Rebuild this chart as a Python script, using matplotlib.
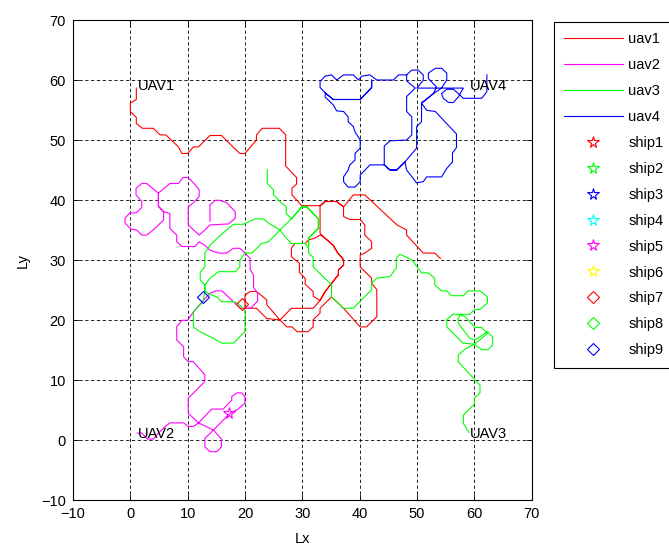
import matplotlib
matplotlib.use("Agg")
import matplotlib.pyplot as plt

plt.rcParams['font.family'] = ['Liberation Sans', 'DejaVu Sans']

# ---------------- data ----------------
uav1 = [(1.05,58.7),(1.05,56.8),(0,56.2),(0,54.8),(1.05,53.8),(1.05,52.8),(2.1,52.0),(4.0,52.0),(5.2,50.9),(6.2,50.9),
        (8.4,48.9),(9.0,47.8),(10,47.8),(11,48.9),(11.9,48.9),(13.9,50.8),(15.9,50.8),(17.9,48.9),(19.1,47.8),(20,47.8),
        (22,50.05),(22,50.9),(23,52),(26,52),(27.1,50.9),(27.1,45.7),(29,43.8),(29,42.7),(28.2,42.0),(28.2,40.9),(29.9,39.1),
        (33.1,39.1),(34.0,39.8),(36.0,39.8),(37.2,38.9),(36.0,39.8),(34.0,39.8),(33.1,39.1),(33.1,34.5),(33.7,33.9),
        (35.4,32.5),(36.2,31.2),(37.2,30.1),(37.2,29.2),(36.3,28.4),(36.3,27.6),(34.0,24.8),(33.1,23.3),
        (31.9,24.0),(31.9,24.8),(30.5,26.0),(30.5,27.0),(29.5,28.0),(29.5,29.5),(28.1,30.6),(28.1,32.0),(28.7,32.8),
        (30.5,32.8),(31.1,33.4),(32.2,33.7),(33.1,34.2),(33.7,33.9),(35.4,32.5),(36.2,31.2),(37.2,30.1),(37.2,29.2),
        (36.3,28.4),(36.3,27.6),(34.0,24.8),(33.1,23.3),(31.9,22.0),(28.1,22.0),(26.1,20.05),(23.8,22.6),(23.8,23.4),
        (22.0,24.8),(20.9,24.8),(20.0,24.2),(20.0,22.0),(22.0,22.0),(23.8,20.3),(26.1,20.05),(27.3,18.9),(28.2,18.9),
        (29.1,18.1),(31.0,18.1),(31.9,18.9),(31.9,20.1),(33.1,21.2),(33.1,22.0),(35.1,23.9),(37.2,22.0),(40.1,18.9),
        (41.2,18.9),(43.0,20.6),(43.0,25.1),(42.1,26.2),(42.1,27.0),(40.1,28.9),(40.1,30.9),(40.9,31.2),(42.1,32.0),
        (42.1,33.1),(40.9,34.2),(40.9,35.9),(40.1,36.8),(38.3,36.8),(37.2,37.3),(37.2,38.9),(38.9,40.9),(40.9,40.9),
        (46.5,35.9),(48.2,35.05),(48.2,34.2),(51.1,31.2),(53.1,31.2),(54.1,30.3)]

uav2 = [(1.2,1.2),(2.0,1.2),(3.0,0.2),(4.0,0.2),(5.0,1.3),(6.1,2.3),(6.9,2.9),(8.4,2.9),(9.3,2.9),(10.1,2.3),(11.0,2.3),
        (11.9,2.9),(14.2,5.2),(16.2,5.2),(17.7,6.7),(17.7,7.3),(18.6,7.9),(19.4,7.9),(20.0,7.3),(20.0,6.2),(18.8,5.2),
        (17.4,4.5),(14.5,1.7),(13.0,0.3),(13.0,-1.1),(13.9,-1.9),(15.1,-1.9),(15.9,-1.1),(15.9,0.2),(14.5,1.7),(11.9,2.9),
        (10.1,4.5),(10.1,7.0),(13.0,9.8),(13.0,10.9),(11.0,13.1),(10.1,13.1),(9.3,13.9),(9.3,15.6),(8.1,16.7),(8.1,18.9),
        (9.0,20.0),(10.0,20.0),(11.0,21.4),(12.9,23.5),(13.9,24.5),(14.9,24.9),(16.0,24.9),(18.3,22.8),(19.2,22.0),
        (21.0,22.0),(22.2,23.2),(22.2,24.5),(21.5,25.5),(21.5,27.5),(20.9,28.5),(20.9,30.3),(20.0,31.2),(19.1,32.0),
        (18.0,32.0),(16.8,31.2),(15.4,31.2),(13.9,31.7),(13.0,32.5),(12.0,33.1),(11.3,32.3),(9.0,32.3),(8.1,33.1),
        (8.1,34.2),(6.9,35.3),(6.9,37.8),(5.8,38.1),(5.8,36.7),(4.9,35.9),(4.0,35.05),(2.85,34.2),(2.0,34.2),(1.1,35.05),
        (0.1,35.2),(-0.93,36.2),(-0.93,37.0),(-0.06,37.9),(1.0,37.9),(2.0,38.8),(2.0,39.8),(1.0,40.9),(1.0,42.0),
        (2.0,42.8),(2.85,42.8),(4.9,41.2),(4.9,39.0),(5.8,38.1),(4.9,39.0),(4.9,41.2),(6.9,42.8),(8.4,42.8),(9.2,43.8),
        (10.1,43.8),(11.1,42.8),(12.0,41.8),(12.0,40.6),(11.0,39.6),(10.1,38.9),(10.1,35.9),(12.0,34.2),(13.0,35.05),
        (13.9,35.9),(17.1,36.05),(18.3,37.0),(18.3,38.1),(16.8,39.6),(15.6,40.0),(14.8,40.0),(13.9,39.2),(13.9,36.5)]

uav3 = [(23.9,45.1),(23.9,42.8),(25.0,41.7),(25.0,40.9),(26.1,39.8),(27.2,38.9),(27.2,37.8),(28.1,36.9),(26.1,35.05),
        (24.1,36.2),(23.2,36.9),(21.75,36.9),(19.7,36.0),(18.0,36.0),(17.1,35.3),(15.4,33.9),(13.9,32.5),(13.0,31.2),
        (13.0,28.9),(12.2,28.0),(12.2,26.7),(13.0,25.9),(13.0,24.9),(12.7,23.1),(11.0,21.4),(11.0,18.9),(12.15,18.1),
        (14.5,17.0),(15.9,16.2),(18.0,16.2),(20.0,18.1),(20.0,21.7),(18.8,22.8),(18.0,23.1),(15.9,23.1),(15.1,23.9),
        (13.9,24.3),(13.0,24.9),(13.0,25.9),(13.9,27.0),(15.4,28.1),(18.3,28.1),(19.1,28.9),(19.1,30.0),(20.0,31.2),
        (21.2,31.2),(22.9,32.8),(24.1,33.1),(24.95,33.9),(26.1,35.05),(27.0,33.9),(28.1,32.8),(30.5,32.8),(31.1,32.0),
        (31.1,33.7),(32.8,35.3),(32.8,36.9),(30.8,38.9),(29.9,38.9),(28.1,36.9),(29.9,38.9),(30.8,38.9),(32.8,36.9),
        (32.8,35.3),(31.1,33.7),(31.1,32.0),(31.1,31.2),(31.9,30.5),(31.9,28.9),(35.1,25.9),(35.1,23.9),(37.2,22.0),
        (38.9,22.0),(42.1,25.1),(42.1,26.2),(43.0,27.0),(45.3,27.3),(46.4,28.7),(46.4,30.3),(47.0,31.0),(49.1,30.1),
        (50.8,27.9),(52.0,27.9),(53.1,27.0),(53.1,25.9),(54.3,24.9),(55.2,24.9),(56.0,24.1),(58.1,24.1),(58.9,24.9),
        (61.0,24.9),(62.3,23.9),(62.3,22.9),(61.0,21.8),(60.1,21.8),(59.2,21.0),(56.3,21.0),(55.2,20.1),(55.2,18.9),
        (58.0,16.2),(60.0,16.0),(61.3,17.0),(62.3,17.8),(61.3,18.8),(60.1,18.8),(58.4,20.6),(57.5,20.9),(57.2,20.3),
        (57.2,19.5),(59.2,17.0),(60.1,16.7),(62.3,18.1),(63.2,17.2),(63.2,15.9),(62.4,15.1),(61.3,15.1),(60.0,16.0),
        (58.4,15.2),(57.2,14.2),(57.2,13.1),(60.0,10.2),(61.0,9.2),(61.0,7.9),(60.0,7.0),(60.0,6.0),(58.1,4.2),
        (58.1,2.8),(59.1,1.3)]

uav4 = [(62.2,60.9),(62.2,58.1),(61.3,57.0),(58.1,57.0),(57.2,57.8),(56.35,58.5),(55.2,58.5),(54.3,57.8),(54.6,57.0),
        (55.5,56.3),(56.35,56.3),(57.2,57.2),(58.1,58.7),(50.0,58.7),(51.1,60.0),(51.1,60.9),(50.2,61.7),(49.1,61.7),
        (48.2,60.9),(48.2,59.9),(49.7,58.7),(48.2,57.3),(48.2,54.8),(49.1,53.9),(49.1,50.9),(48.2,50.05),(45.3,49.9),
        (44.3,49.05),(44.3,45.9),(45.3,45.05),(46.5,45.05),(47.9,46.4),(49.95,48.7),(49.95,52.3),(50.8,53.1),(50.8,56.2),
        (52.9,57.8),(54.3,58.7),(55.2,60.05),(55.2,61.2),(54.3,62.0),(53.2,62.0),(52.0,61.2),(52.0,60.3),(53.4,58.9),
        (52.9,57.8),(50.8,56.2),(51.7,55.0),(53.2,54.8),(56.9,51.05),(56.9,48.8),(56.2,47.9),(56.2,46.4),(55.2,45.3),
        (54.3,43.9),(51.7,43.9),(51.1,43.1),(49.95,42.9),(48.2,45.05),(47.9,46.4),(46.5,45.05),(45.3,45.05),(44.3,45.9),
        (41.8,45.9),(40.1,44.2),(40.1,43.1),(39.2,42.2),(38.0,42.2),(37.2,43.1),(37.2,43.9),(38.0,45.05),(38.3,45.9),
        (39.2,46.7),(39.2,47.8),(40.1,48.7),(40.1,50.05),(39.2,51.4),(38.9,52.3),(38.0,53.1),(38.0,53.9),(37.2,54.8),
        (36.0,54.9),(35.4,55.9),(34.0,57.2),(34.0,57.9),(35.4,56.8),(40.1,56.8),(42.1,58.8),(42.1,60.05),(42.1,58.8),
        (40.1,56.8),(35.4,56.8),(34.0,57.9),(33.1,58.8),(33.1,59.8),(34.0,60.7),(35.1,60.9),(36.0,60.05),(37.2,60.9),
        (38.9,60.9),(39.8,60.05),(40.4,60.7),(41.8,60.9),(43.0,60.05),(45.9,60.05),(46.8,60.9),(48.2,60.9)]

uav_names = ['uav1', 'uav2', 'uav3', 'uav4']
uav_colors = ['#ff0000', '#ff00ff', '#00ff00', '#0000ff']

ship_names = ['ship1', 'ship2', 'ship3', 'ship4', 'ship5', 'ship6', 'ship7', 'ship8', 'ship9']
ship_x = [[], [], [], [], [17.3], [], [19.4], [], [12.7]]
ship_y = [[], [], [], [], [4.5], [], [22.7], [], [23.9]]
ship_markers = ['*', '*', '*', '*', '*', '*', 'D', 'D', 'D']
ship_colors = ['#ff0000', '#00ff00', '#0000ff', '#00ffff', '#ff00ff', '#ffff00', '#ff0000', '#00ff00', '#0000ff']

start_labels = ['UAV1', 'UAV2', 'UAV3', 'UAV4']
start_x = [1, 1, 59, 59]
start_y = [59, 1, 1, 59]

ticks = [-10, 0, 10, 20, 30, 40, 50, 60, 70]

# ---------------- figure ----------------
fig = plt.figure(figsize=(6.69, 5.5), dpi=100)
ax = fig.add_axes([0.1091, 0.0904, 0.6855, 0.8727])

for path, name, col in zip([uav1, uav2, uav3, uav4], uav_names, uav_colors):
    xs = [p[0] for p in path]
    ys = [p[1] for p in path]
    ax.plot(xs, ys, color=col, lw=0.8, label=name)

for sx, sy, m, c, n in zip(ship_x, ship_y, ship_markers, ship_colors, ship_names):
    ms = 8.5 if m == '*' else 6
    ax.plot(sx, sy, linestyle='none', marker=m, markersize=ms, markerfacecolor='none',
            markeredgecolor=c, markeredgewidth=0.8, label=n)

for t, x, y in zip(start_labels, start_x, start_y):
    ax.text(x + 0.25, y, t, fontsize=10.5, ha='left', va='center', color='black')

ax.set_xlim(-10, 70)
ax.set_ylim(-10, 70)
ax.set_xticks(ticks)
ax.set_yticks(ticks)
ax.tick_params(direction='in', length=4, width=0.6, top=True, right=True, labelsize=10.5, pad=5)
ax.grid(True, color='black', linestyle=(0, (4, 3)), linewidth=0.6)
for s in ax.spines.values():
    s.set_linewidth(0.8)
ax.set_xlabel('Lx', fontsize=10.5, labelpad=8)
ax.set_ylabel('Ly', fontsize=10.5, labelpad=8)

leg = fig.legend(loc='upper left', bbox_to_anchor=(554 / 669, 1 - 21.7 / 550), fontsize=10.5,
                 frameon=True, fancybox=False, framealpha=1, edgecolor='black',
                 handlelength=4.0, handletextpad=0.4, labelspacing=0.82, borderpad=0.7,
                 borderaxespad=0)
leg.get_frame().set_linewidth(0.8)

fig.savefig('out.png', dpi=100)
